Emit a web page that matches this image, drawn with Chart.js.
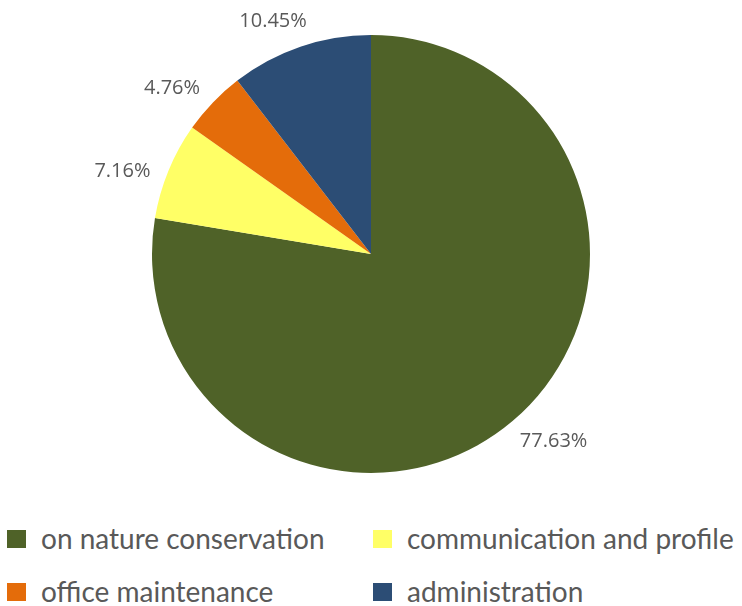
<!DOCTYPE html>
<html>
<head>
<meta charset="utf-8">
<script src="https://cdn.jsdelivr.net/npm/chart.js@4/dist/chart.umd.min.js"></script>
<style>
  body { margin: 0; background: #fff; }
  #wrap { position: relative; width: 742px; height: 606px; }
  #pie { position: absolute; left: 0; top: 0; }
  .item { position: absolute; font-family: Lato, sans-serif; font-size: 28px; color: #595959; white-space: nowrap; }
  .item span.box { position: absolute; left: 0; width: 19px; height: 18px; }
  .item span.txt { position: absolute; }
</style>
</head>
<body>
<div id="wrap">
  <canvas id="pie" width="742" height="500"></canvas>
  <div id="legend"></div>
</div>
<script>
const categories = ["on nature conservation", "communication and profile", "office maintenance", "administration"];
const shares = [77.63, 7.16, 4.76, 10.45];
const colors = ["#4F6228", "#FFFF66", "#E46C0A", "#2C4D75"];

// slice order around the pie (clockwise from 12 o'clock)
const sliceOrder = [0, 1, 2, 3];

// percentage labels just outside each slice
const outsideLabels = {
  id: "outsideLabels",
  afterDatasetsDraw(chart) {
    const ctx = chart.ctx;
    const meta = chart.getDatasetMeta(0);
    ctx.save();
    ctx.font = "20px 'Open Sans', sans-serif";
    ctx.fillStyle = "#595959";
    ctx.textAlign = "center";
    ctx.textBaseline = "middle";
    meta.data.forEach((arc, i) => {
      const text = chart.data.datasets[0].data[i].toFixed(2) + "%";
      const w = ctx.measureText(text).width;
      const h = 14;
      // label sits a little counter-clockwise of the slice middle
      const a = (arc.startAngle + arc.endAngle) / 2 - 0.07;
      const c = Math.cos(a), s = Math.sin(a);
      const d = arc.outerRadius + 14 + Math.abs(c) * w / 2 + Math.abs(s) * h / 2;
      ctx.fillText(text, arc.x + c * d, arc.y + s * d);
    });
    ctx.restore();
  }
};

new Chart(document.getElementById("pie"), {
  type: "pie",
  data: {
    labels: sliceOrder.map(i => categories[i]),
    datasets: [{
      data: sliceOrder.map(i => shares[i]),
      backgroundColor: sliceOrder.map(i => colors[i]),
      borderWidth: 0
    }]
  },
  options: {
    responsive: false,
    animation: false,
    layout: { padding: { top: 35, bottom: 27, left: 0, right: 0 } },
    plugins: {
      legend: { display: false },
      tooltip: { enabled: false }
    }
  },
  plugins: [outsideLabels]
});

// legend, two columns
const legend = document.getElementById("legend");
const legendOrder = [0, 1, 2, 3];
legendOrder.forEach((idx, n) => {
  const col = n % 2, row = Math.floor(n / 2);
  const item = document.createElement("div");
  item.className = "item";
  item.style.left = (col ? 373 : 7) + "px";
  item.style.top = (row ? 583 : 530) + "px";
  item.innerHTML = '<span class="box" style="background:' + colors[idx] + '"></span>' +
    '<span class="txt" style="left:34px; top:-9px">' + categories[idx] + '</span>';
  legend.appendChild(item);
});
</script>
</body>
</html>
